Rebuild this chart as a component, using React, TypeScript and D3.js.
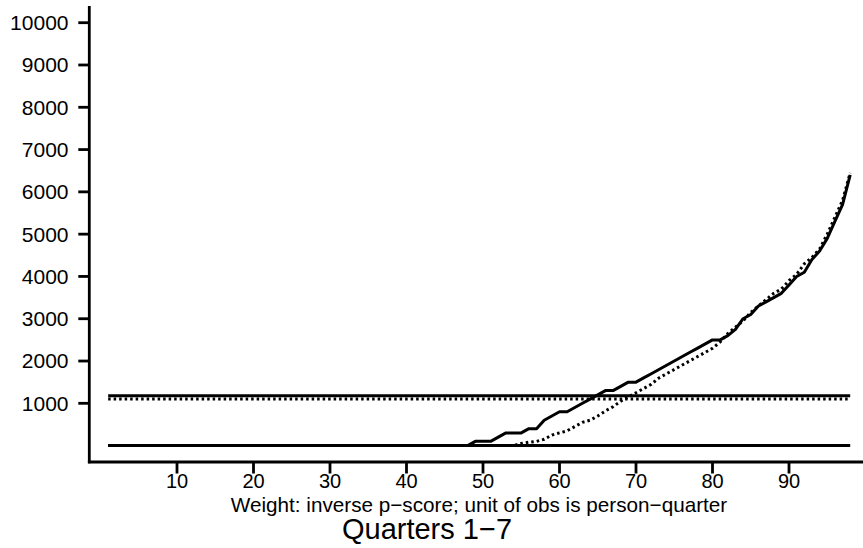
import React from "react";
import * as d3 from "d3";

// Percentile grid (1..98)
const percentiles: number[] = d3.range(1, 99);

// Solid series: earnings at each percentile
const solidSeries: number[] = [
  // 1-48
  0, 0, 0, 0, 0, 0, 0, 0, 0, 0,
  0, 0, 0, 0, 0, 0, 0, 0, 0, 0,
  0, 0, 0, 0, 0, 0, 0, 0, 0, 0,
  0, 0, 0, 0, 0, 0, 0, 0, 0, 0,
  0, 0, 0, 0, 0, 0, 0, 0,
  // 49-60
  100, 100, 100, 200, 300, 300, 300, 400, 400, 600, 700, 800,
  // 61-70
  800, 900, 1000, 1100, 1200, 1300, 1300, 1400, 1500, 1500,
  // 71-80
  1600, 1700, 1800, 1900, 2000, 2100, 2200, 2300, 2400, 2500,
  // 81-90
  2500, 2600, 2750, 3000, 3100, 3300, 3400, 3500, 3600, 3800,
  // 91-98
  4000, 4100, 4400, 4600, 4900, 5300, 5700, 6400,
];

// Dotted series: earnings at each percentile
const dottedSeries: number[] = [
  // 1-54
  0, 0, 0, 0, 0, 0, 0, 0, 0, 0,
  0, 0, 0, 0, 0, 0, 0, 0, 0, 0,
  0, 0, 0, 0, 0, 0, 0, 0, 0, 0,
  0, 0, 0, 0, 0, 0, 0, 0, 0, 0,
  0, 0, 0, 0, 0, 0, 0, 0, 0, 0,
  0, 0, 0, 0,
  // 55-60
  50, 80, 100, 150, 250, 300,
  // 61-70
  350, 450, 550, 600, 700, 820, 920, 1050, 1150, 1250,
  // 71-80
  1350, 1450, 1600, 1700, 1800, 1900, 2000, 2100, 2200, 2300,
  // 81-90
  2450, 2650, 2800, 2950, 3150, 3300, 3450, 3600, 3700, 3900,
  // 91-98
  4050, 4300, 4450, 4650, 5000, 5400, 5800, 6450,
];

// Means drawn as horizontal reference lines
const solidMean = 1180;
const dottedMean = 1100;
const zeroLevel = 0;

const yTicks: number[] = [1000, 2000, 3000, 4000, 5000, 6000, 7000, 8000, 9000, 10000];
const xTicks: number[] = [10, 20, 30, 40, 50, 60, 70, 80, 90];

const subtitle = "Weight: inverse p\u2212score; unit of obs is person\u2212quarter";
const title = "Quarters 1\u22127";

const W = 863;
const H = 548;
const FONT = "'Liberation Sans', Arial, Helvetica, sans-serif";

export default function App() {
  const x = d3.scaleLinear().domain([0, 100]).range([100.5, 865.5]);
  const y = d3.scaleLinear().domain([0, 10000]).range([445.6, 22.7]);

  const axisX = 89.3;
  const axisY = 462;

  const line = d3
    .line<number>()
    .x((_, i) => x(percentiles[i]))
    .y((d) => y(d))
    .curve(d3.curveLinear);

  const xMin = x(percentiles[0]);
  const xMax = x(percentiles[percentiles.length - 1]);

  const dotted = "2.5 3";

  return (
    <svg
      width={W}
      height={H}
      viewBox={`0 0 ${W} ${H}`}
      style={{ position: "fixed", left: 0, top: 0, background: "#fff" }}
    >
      <rect x={0} y={0} width={W} height={H} fill="#fff" />

      {/* axes */}
      <line x1={axisX} x2={axisX} y1={6} y2={axisY + 1.3} stroke="#000" strokeWidth={2.8} />
      <line x1={axisX - 1.4} x2={W} y1={axisY} y2={axisY} stroke="#000" strokeWidth={2.8} />

      {yTicks.map((t) => (
        <g key={`y${t}`}>
          <line x1={axisX - 11} x2={axisX} y1={y(t)} y2={y(t)} stroke="#000" strokeWidth={2.8} />
          <text
            x={68.5}
            y={y(t)}
            dy="0.35em"
            textAnchor="end"
            fontFamily={FONT}
            fontSize={21}
            fill="#000"
          >
            {t}
          </text>
        </g>
      ))}

      {xTicks.map((t) => (
        <g key={`x${t}`}>
          <line x1={x(t)} x2={x(t)} y1={axisY} y2={axisY + 11.5} stroke="#000" strokeWidth={2.8} />
          <text
            x={x(t)}
            y={488}
            textAnchor="middle"
            fontFamily={FONT}
            fontSize={20}
            fill="#000"
          >
            {t}
          </text>
        </g>
      ))}

      {/* reference lines */}
      <line x1={xMin} x2={xMax} y1={y(zeroLevel)} y2={y(zeroLevel)} stroke="#000" strokeWidth={3} />
      <line
        x1={xMin}
        x2={xMax}
        y1={y(zeroLevel)}
        y2={y(zeroLevel)}
        stroke="#000"
        strokeWidth={3}
        strokeDasharray={dotted}
      />
      <line x1={xMin} x2={xMax} y1={y(solidMean)} y2={y(solidMean)} stroke="#000" strokeWidth={3} />
      <line
        x1={xMin}
        x2={xMax}
        y1={y(dottedMean)}
        y2={y(dottedMean)}
        stroke="#000"
        strokeWidth={3}
        strokeDasharray={dotted}
      />

      {/* percentile curves */}
      <path d={line(dottedSeries) ?? ""} fill="none" stroke="#000" strokeWidth={3} strokeDasharray={dotted} />
      <path d={line(solidSeries) ?? ""} fill="none" stroke="#000" strokeWidth={3} strokeLinejoin="round" />

      <text x={479} y={511.5} textAnchor="middle" fontFamily={FONT} fontSize={20.7} fill="#000">
        {subtitle}
      </text>
      <text x={427} y={538.5} textAnchor="middle" fontFamily={FONT} fontSize={29} fill="#000">
        {title}
      </text>
    </svg>
  );
}
